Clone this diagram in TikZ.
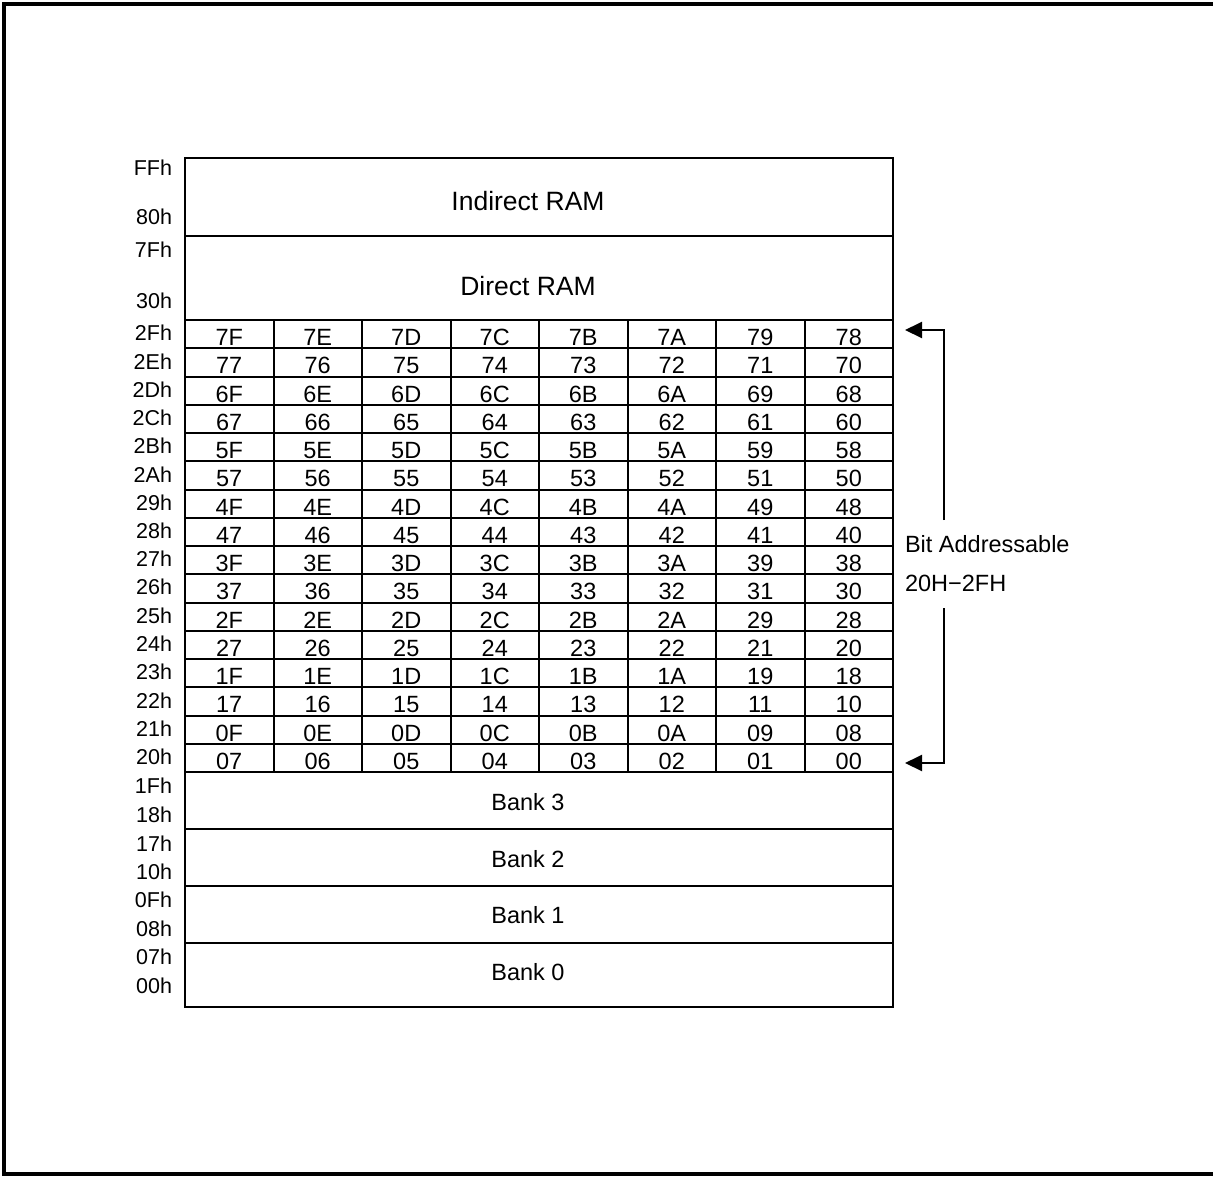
\documentclass[tikz,border=0pt]{standalone}
\usepackage{fontspec}
\setmainfont{Liberation Sans}
\usetikzlibrary{arrows.meta}
\begin{document}
\begin{tikzpicture}[x=1pt,y=-1pt,
  every node/.style={inner sep=0pt, outer sep=0pt},
  box/.style={draw, line width=2pt, minimum width=708pt},
  cell/.style={draw, line width=2pt, minimum width=88.5pt, minimum height=28.25pt,
    font=\fontsize{23.5}{23.5}\selectfont, text height=23pt, text depth=0pt},
  addr/.style={anchor=east, font=\fontsize{21.5}{21.5}\selectfont},
  ramtext/.style={font=\fontsize{26.5}{26.5}\selectfont},
  banktext/.style={font=\fontsize{23.5}{23.5}\selectfont},
  note/.style={anchor=west, font=\fontsize{23.5}{23.5}\selectfont},
  arr/.style={line width=2pt, -{Triangle[length=17pt,width=16pt]}}]
\useasboundingbox (0,0) rectangle (1213,1176);
% outer frame
\draw[line width=4pt] (1220,4) -- (4,4) -- (4,1174) -- (1220,1174);
% big boxes
\node[box, minimum height=78pt] (indirect) at (539,197) {};
\node[box, minimum height=84pt] (direct) at (539,278) {};
\node[box, minimum height=57pt] (bank3) at (539,800.5) {};
\node[box, minimum height=57pt] (bank2) at (539,857.5) {};
\node[box, minimum height=57pt] (bank1) at (539,914.5) {};
\node[box, minimum height=64pt] (bank0) at (539,975) {};
\node[ramtext] (tindirect) at (528,201) {Indirect RAM};
\node[ramtext] (tdirect) at (528,286) {Direct RAM};
\node[banktext] (tbank3) at (528,802) {Bank 3};
\node[banktext] (tbank2) at (528,859) {Bank 2};
\node[banktext] (tbank1) at (528,915) {Bank 1};
\node[banktext] (tbank0) at (528,972) {Bank 0};
% bit grid
\foreach \row [count=\r from 0] in {
  {7F,7E,7D,7C,7B,7A,79,78},{77,76,75,74,73,72,71,70},
  {6F,6E,6D,6C,6B,6A,69,68},{67,66,65,64,63,62,61,60},
  {5F,5E,5D,5C,5B,5A,59,58},{57,56,55,54,53,52,51,50},
  {4F,4E,4D,4C,4B,4A,49,48},{47,46,45,44,43,42,41,40},
  {3F,3E,3D,3C,3B,3A,39,38},{37,36,35,34,33,32,31,30},
  {2F,2E,2D,2C,2B,2A,29,28},{27,26,25,24,23,22,21,20},
  {1F,1E,1D,1C,1B,1A,19,18},{17,16,15,14,13,12,11,10},
  {0F,0E,0D,0C,0B,0A,09,08},{07,06,05,04,03,02,01,00}}{
  \foreach \v [count=\c from 0] in \row {
    \node[cell] (c\r-\c) at ({229.25+88.5*\c},{334.125+28.25*\r}) {\v};
  }
}
% address labels
\node[addr] (aFF) at (172,168) {FFh};
\node[addr] (a80) at (172,217) {80h};
\node[addr] (a7F) at (172,250) {7Fh};
\node[addr] (a30) at (172,301) {30h};
\foreach \lab [count=\r from 0] in {2Fh,2Eh,2Dh,2Ch,2Bh,2Ah,29h,28h,27h,26h,25h,24h,23h,22h,21h,20h}{
  \node[addr] (ar\r) at (172,{333+28.25*\r}) {\lab};
}
\node[addr] (a1F) at (172,786) {1Fh};
\node[addr] (a18) at (172,815) {18h};
\node[addr] (a17) at (172,844) {17h};
\node[addr] (a10) at (172,872) {10h};
\node[addr] (a0F) at (172,900) {0Fh};
\node[addr] (a08) at (172,929) {08h};
\node[addr] (a07) at (172,957) {07h};
\node[addr] (a00) at (172,986) {00h};
% bit addressable note and arrows
\node[note] (bitaddr) at (905,544) {Bit Addressable};
\node[note] (range) at (905,583) {20H−2FH};
\coordinate (vtopend) at (944,520);
\coordinate (vtop) at (944,330);
\coordinate (tiptop) at (905,330);
\coordinate (vbotstart) at (944,608);
\coordinate (vbot) at (944,763);
\coordinate (tipbot) at (905,763);
\draw[arr] (vtopend) -- (vtop) -- (tiptop);
\draw[arr] (vbotstart) -- (vbot) -- (tipbot);
\end{tikzpicture}
\end{document}
